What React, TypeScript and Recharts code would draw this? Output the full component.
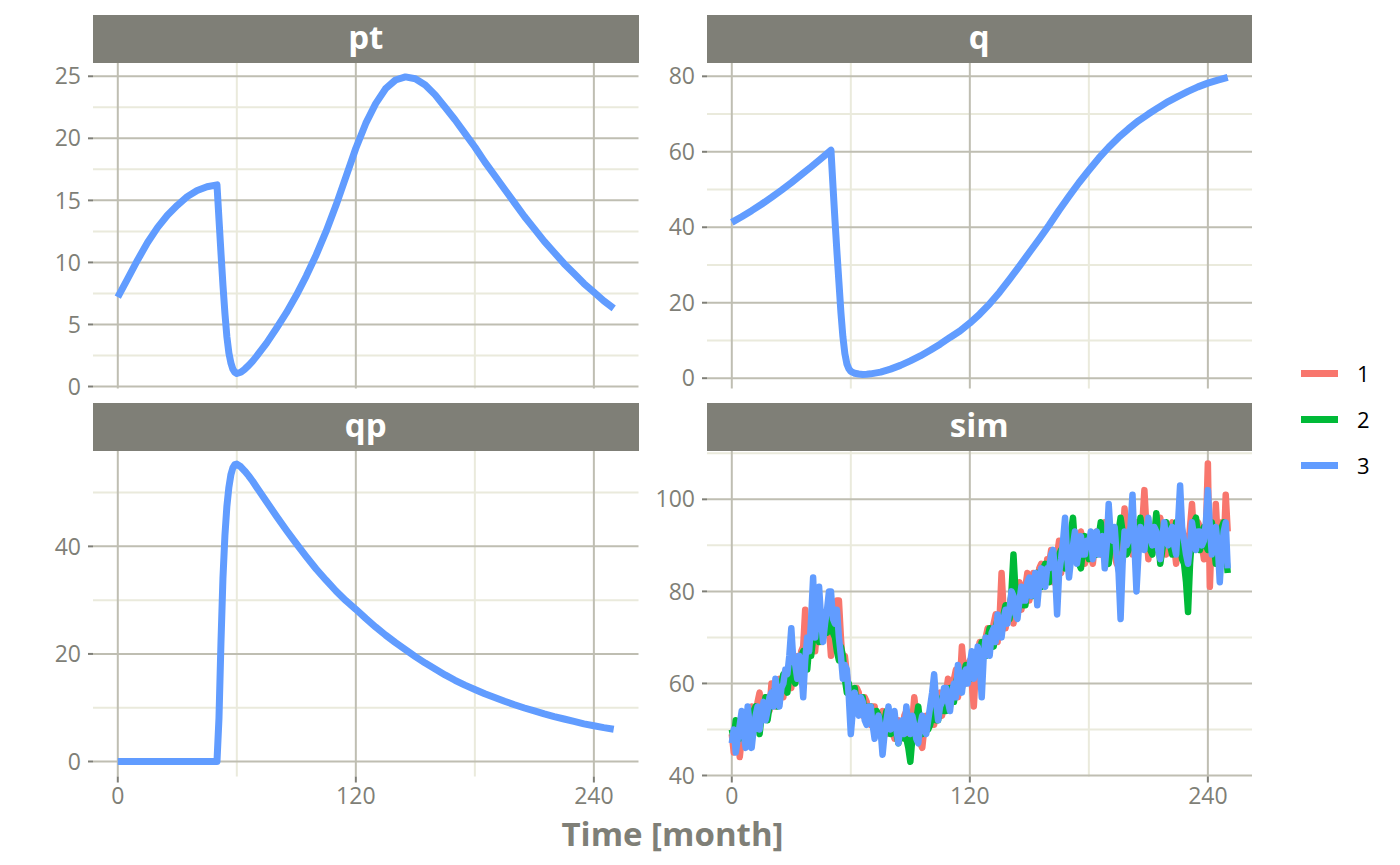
import { LineChart, Line, XAxis, YAxis, ReferenceLine } from 'recharts';

// months sampled for the smooth model curves
const MONTHS = [0, 5, 10, 15, 20, 25, 30, 35, 40, 45, 50, 51, 52, 53, 54, 55, 56, 57, 58, 59, 60, 62, 64, 66, 68,
  70, 75, 80, 85, 90, 95, 100, 105, 110, 115, 120, 125, 130, 135, 140, 145, 150, 155, 160, 165, 170, 175, 180,
  185, 190, 195, 200, 205, 210, 215, 220, 225, 230, 235, 240, 245, 250];

const PT = [7.2, 8.7, 10.2, 11.6, 12.8, 13.8, 14.6, 15.3, 15.8, 16.1, 16.25, 13.5, 10.8, 8.2, 5.9, 4.0, 2.7, 1.9,
  1.4, 1.15, 1.05, 1.15, 1.4, 1.7, 2.05, 2.45, 3.5, 4.7, 5.95, 7.35, 8.9, 10.6, 12.5, 14.6, 16.9, 19.2, 21.2,
  22.8, 24.0, 24.7, 24.95, 24.8, 24.3, 23.5, 22.5, 21.5, 20.4, 19.3, 18.1, 17.0, 15.9, 14.8, 13.7, 12.7, 11.7,
  10.8, 9.9, 9.1, 8.3, 7.6, 6.9, 6.3];

const Q = [41.3, 42.8, 44.4, 46.1, 47.9, 49.8, 51.8, 53.9, 56.0, 58.2, 60.4, 51.0, 42.0, 33.5, 25.5, 17.5, 11.0,
  6.5, 3.8, 2.5, 1.8, 1.3, 1.1, 1.0, 1.05, 1.15, 1.6, 2.4, 3.4, 4.6, 5.9, 7.4, 9.0, 10.8, 12.5, 14.6, 17.0, 19.7,
  22.8, 26.2, 29.7, 33.3, 36.9, 40.6, 44.5, 48.2, 51.8, 55.1, 58.3, 61.2, 63.8, 66.1, 68.2, 70.0, 71.7, 73.3,
  74.7, 76.0, 77.2, 78.2, 79.0, 79.7];

const QP = [0, 0, 0, 0, 0, 0, 0, 0, 0, 0, 0, 8, 22, 34, 42, 47.5, 51, 53.3, 54.6, 55.2, 55.3, 54.8, 54.0, 53.1,
  52.1, 51.0, 48.3, 45.6, 43.0, 40.5, 38.1, 35.8, 33.7, 31.7, 29.9, 28.3, 26.6, 25.0, 23.5, 22.1, 20.8, 19.5,
  18.3, 17.2, 16.1, 15.1, 14.2, 13.4, 12.6, 11.9, 11.2, 10.55, 9.95, 9.4, 8.85, 8.35, 7.9, 7.45, 7.0, 6.65,
  6.3, 6.0];

// simulated trajectories, monthly
const SIM_MONTHS = [
  0, 1, 2, 3, 4, 5, 6, 7, 8, 9, 10, 11, 12, 13, 14, 15, 16, 17, 18, 19,
  20, 21, 22, 23, 24, 25, 26, 27, 28, 29, 30, 31, 32, 33, 34, 35, 36, 37, 38, 39,
  40, 41, 42, 43, 44, 45, 46, 47, 48, 49, 50, 51, 52, 53, 54, 55, 56, 57, 58, 59,
  60, 61, 62, 63, 64, 65, 66, 67, 68, 69, 70, 71, 72, 73, 74, 75, 76, 77, 78, 79,
  80, 81, 82, 83, 84, 85, 86, 87, 88, 89, 90, 91, 92, 93, 94, 95, 96, 97, 98, 99,
  100, 101, 102, 103, 104, 105, 106, 107, 108, 109, 110, 111, 112, 113, 114, 115, 116, 117, 118, 119,
  120, 121, 122, 123, 124, 125, 126, 127, 128, 129, 130, 131, 132, 133, 134, 135, 136, 137, 138, 139,
  140, 141, 142, 143, 144, 145, 146, 147, 148, 149, 150, 151, 152, 153, 154, 155, 156, 157, 158, 159,
  160, 161, 162, 163, 164, 165, 166, 167, 168, 169, 170, 171, 172, 173, 174, 175, 176, 177, 178, 179,
  180, 181, 182, 183, 184, 185, 186, 187, 188, 189, 190, 191, 192, 193, 194, 195, 196, 197, 198, 199,
  200, 201, 202, 203, 204, 205, 206, 207, 208, 209, 210, 211, 212, 213, 214, 215, 216, 217, 218, 219,
  220, 221, 222, 223, 224, 225, 226, 227, 228, 229, 230, 231, 232, 233, 234, 235, 236, 237, 238, 239,
  240, 241, 242, 243, 244, 245, 246, 247, 248, 249, 250];

const SIM1 = [
  49, 45, 47, 50, 44, 48, 52, 48, 50, 53, 55, 51, 51, 56, 58, 53, 53, 57, 57, 54,
  60, 57, 55, 59, 61, 58, 57, 62, 63, 60, 59, 64, 66, 62, 61, 67, 68, 76, 65, 69,
  71, 74, 67, 72, 74, 69, 70, 75, 76, 72, 66, 74, 72, 78, 78, 70, 64, 66, 62, 58,
  59, 56, 55, 59, 58, 54, 53, 57, 56, 52, 51, 55, 55, 51, 50, 53, 54, 50, 49, 52,
  53, 50, 48, 51, 52, 48, 49, 53, 54, 50, 48, 52, 57, 53, 51, 47, 46, 50, 53, 51,
  54, 56, 51, 54, 56, 58, 53, 56, 58, 61, 55, 58, 61, 63, 57, 60, 68, 63, 60, 64,
  65, 60, 55, 63, 67, 69, 64, 68, 70, 72, 67, 71, 73, 75, 69, 74, 84, 76, 72, 75,
  77, 79, 73, 77, 79, 82, 76, 80, 81, 84, 78, 81, 84, 79, 80, 85, 86, 83, 82, 87,
  86, 89, 82, 86, 88, 91, 84, 88, 90, 86, 85, 89, 91, 88, 87, 91, 93, 89, 86, 90,
  91, 88, 86, 90, 93, 89, 88, 92, 95, 91, 89, 93, 92, 88, 86, 90, 94, 91, 98, 92,
  93, 90, 88, 92, 95, 91, 90, 95, 102, 94, 87, 92, 94, 90, 89, 93, 96, 92, 91, 88,
  89, 93, 95, 90, 86, 91, 97, 93, 92, 89, 88, 94, 99, 92, 90, 95, 94, 90, 87, 93,
  107.8, 81, 93, 88, 99, 91, 86, 95, 89, 101, 93];

const SIM2 = [
  50, 48, 52, 50, 48, 51, 53, 49, 47, 50, 51, 54, 55, 52, 49, 53, 54, 57, 52, 55,
  55, 58, 59, 55, 56, 60, 62, 59, 58, 62, 64, 61, 60, 64, 62, 66, 67, 64, 63, 68,
  66, 70, 73, 71, 69, 74, 75, 72, 71, 76, 74, 71, 70, 67, 65, 68, 66, 61, 58, 60,
  56, 58, 59, 55, 54, 57, 57, 53, 52, 55, 55, 52, 51, 54, 53, 50, 50, 52, 54, 51,
  49, 51, 52, 49, 47, 50, 51, 48, 48, 46, 43, 48, 50, 52, 55, 51, 49, 52, 52, 50,
  51, 53, 55, 52, 52, 55, 57, 54, 54, 57, 59, 56, 56, 60, 62, 59, 59, 62, 64, 61,
  61, 64, 66, 63, 63, 67, 69, 66, 66, 70, 72, 69, 68, 72, 74, 71, 71, 75, 77, 74,
  74, 80, 88, 80, 75, 78, 80, 77, 77, 81, 82, 79, 79, 83, 84, 81, 81, 85, 86, 83,
  82, 85, 87, 84, 84, 88, 89, 86, 85, 89, 91, 93, 96, 90, 88, 86, 85, 89, 92, 89,
  87, 90, 92, 89, 88, 92, 95, 91, 90, 87, 86, 90, 93, 90, 89, 93, 96, 93, 91, 88,
  89, 92, 94, 90, 87, 91, 96, 92, 90, 94, 93, 89, 88, 92, 97, 92, 86, 89, 92, 95,
  93, 90, 88, 92, 95, 91, 90, 87, 86, 82, 75.5, 86, 92, 95, 96, 92, 89, 92, 94, 90,
  89, 92, 95, 90, 86, 89, 91, 94, 95, 89, 84];

const SIM3 = [
  47, 50, 45, 48, 51, 54, 49, 46, 55, 51, 46, 50, 53, 55, 50, 53, 56, 52, 54, 57,
  58, 55, 61, 58, 55, 59, 60, 63, 62, 66, 72, 65, 64, 61, 66, 63, 57, 65, 70, 67,
  74, 83, 70, 75, 81, 74, 69, 73, 76, 80, 80, 74, 73, 76, 70, 66, 61, 64, 63, 57,
  49, 54, 58, 55, 53, 57, 56, 52, 51, 55, 55, 51, 48, 52, 53, 50, 44.5, 49, 52, 55,
  50, 53, 54, 50, 47, 51, 52, 49, 55, 51, 49, 53, 51, 48, 47, 51, 53, 50, 49, 52,
  55, 58, 62, 56, 52, 55, 56, 59, 59, 56, 54, 58, 60, 57, 64, 61, 58, 62, 63, 60,
  64, 67, 61, 65, 68, 64, 57, 66, 70, 68, 66, 71, 72, 69, 75, 72, 70, 74, 76, 73,
  76, 80, 79, 75, 74, 78, 81, 78, 78, 82, 83, 79, 80, 84, 77, 82, 85, 82, 81, 85,
  85, 88, 89, 84, 75, 84, 87, 91, 96, 88, 83, 87, 90, 93, 86, 89, 92, 88, 88, 91,
  90, 93, 87, 90, 93, 88, 89, 92, 85, 90, 99, 92, 91, 94, 88, 84, 74, 86, 93, 90,
  91, 94, 101, 90, 80, 88, 94, 91, 89, 93, 96, 92, 90, 94, 93, 89, 87, 92, 95, 91,
  90, 93, 94, 90, 88, 95, 103, 94, 91, 88, 86, 90, 95, 92, 89, 93, 93, 90, 91, 95,
  102, 94, 88, 91, 94, 90, 82, 89, 93, 95, 85];

const X_TICKS = [0, 120, 240];
const X_MINOR = [60, 180];
const RUN_LABELS = ['1', '2', '3'];
const RUN_COLORS = ['#F8766D', '#00BA38', '#619CFF'];

const curveData = MONTHS.map((m, i) => ({ m, pt: PT[i], q: Q[i], qp: QP[i] }));
const simData = SIM_MONTHS.map((m, i) => ({ m, s1: SIM1[i], s2: SIM2[i], s3: SIM3[i] }));

const STRIP = '#7F7F77';
const TEXT = '#7F7F77';
const MAJOR = '#BFBEB2';
const MINOR = '#EAEADC';
const FONT = "'Open Sans', 'Noto Sans', sans-serif";

const PANEL_W = 545.5;
const PANEL_H = 325.5;
const YW = 70;
const XH = 50;
const PAD = 16;
const COLS = [93, 706.5];
const ROWS = [63, 450.7];
const STRIP_TOPS = [15, 403];

const panels = [
  { title: 'pt', col: 0, row: 0, data: curveData, keys: ['pt'], colors: [RUN_COLORS[2]], width: 7,
    domain: [-0.16, 26.07], ticks: [0, 5, 10, 15, 20, 25], minor: [2.5, 7.5, 12.5, 17.5, 22.5] },
  { title: 'q', col: 1, row: 0, data: curveData, keys: ['q'], colors: [RUN_COLORS[2]], width: 7,
    domain: [-2.73, 83.53], ticks: [0, 20, 40, 60, 80], minor: [10, 30, 50, 70] },
  { title: 'qp', col: 0, row: 1, data: curveData, keys: ['qp'], colors: [RUN_COLORS[2]], width: 7,
    domain: [-2.79, 57.73], ticks: [0, 20, 40], minor: [10, 30, 50] },
  { title: 'sim', col: 1, row: 1, data: simData, keys: ['s1', 's2', 's3'], colors: RUN_COLORS, width: 6.5,
    domain: [39.78, 110.5], ticks: [40, 60, 80, 100], minor: [50, 70, 90, 110] },
];

function Panel({ p }: { p: (typeof panels)[number] }) {
  const showX = p.row === 1;
  const left = COLS[p.col];
  const tickStyle = { fill: TEXT, fontSize: 23, fontFamily: FONT };
  return (
    <>
      <div
        style={{
          position: 'absolute', left, top: STRIP_TOPS[p.row], width: PANEL_W, height: 48,
          background: STRIP, color: '#fff', fontFamily: FONT, fontWeight: 700, fontSize: 33,
          lineHeight: '44px', textAlign: 'center',
        }}
      >
        {p.title}
      </div>
      <div style={{ position: 'absolute', left: left - YW, top: ROWS[p.row] - PAD }}>
        <LineChart
          width={YW + PANEL_W}
          height={PANEL_H + PAD + (showX ? XH : PAD)}
          data={p.data}
          margin={{ top: PAD, right: 0, bottom: showX ? 0 : PAD, left: 0 }}
        >
          <XAxis
            dataKey="m"
            type="number"
            domain={[-12.5, 262.5]}
            ticks={X_TICKS}
            interval={0}
            allowDataOverflow
            hide={!showX}
            height={XH}
            axisLine={false}
            tickSize={6}
            tickMargin={5}
            tickLine={{ stroke: TEXT, strokeWidth: 2 }}
            tick={tickStyle}
          />
          <YAxis
            type="number"
            domain={p.domain}
            ticks={p.ticks}
            interval={0}
            allowDataOverflow
            width={YW}
            axisLine={false}
            tickSize={5}
            tickMargin={7}
            tickLine={{ stroke: TEXT, strokeWidth: 2 }}
            tick={tickStyle}
          />
          {p.minor.map((v) => (
            <ReferenceLine key={'ym' + v} y={v} stroke={MINOR} strokeWidth={2} zIndex={-60} />
          ))}
          {X_MINOR.map((v) => (
            <ReferenceLine key={'xm' + v} x={v} stroke={MINOR} strokeWidth={2} zIndex={-60} />
          ))}
          {p.ticks.map((v) => (
            <ReferenceLine key={'yM' + v} y={v} stroke={MAJOR} strokeWidth={2} zIndex={-50} />
          ))}
          {X_TICKS.map((v) => (
            <ReferenceLine key={'xM' + v} x={v} stroke={MAJOR} strokeWidth={2} zIndex={-50} />
          ))}
          {p.keys.map((k, i) => (
            <Line
              key={k}
              type="linear"
              dataKey={k}
              stroke={p.colors[i]}
              strokeWidth={p.width}
              strokeLinejoin="round"
              dot={false}
              activeDot={false}
              isAnimationActive={false}
            />
          ))}
        </LineChart>
      </div>
    </>
  );
}

export default function App() {
  return (
    <div style={{ position: 'relative', width: 1400, height: 865, background: '#fff', fontFamily: FONT }}>
      <style>{'body{margin:0}'}</style>
      {panels.map((p) => (
        <Panel key={p.title} p={p} />
      ))}
      <div
        style={{
          position: 'absolute', left: COLS[0], width: COLS[1] + PANEL_W - COLS[0], top: 817,
          textAlign: 'center', color: TEXT, fontWeight: 700, fontSize: 33, lineHeight: '33px',
        }}
      >
        Time [month]
      </div>
      {RUN_LABELS.map((lab, i) => (
        <div key={lab} style={{ position: 'absolute', left: 1301, top: 373.3 + i * 46 - 20, height: 40 }}>
          <div style={{ position: 'absolute', left: 0, top: 16.5, width: 37, height: 7, background: RUN_COLORS[i] }} />
          <div style={{ position: 'absolute', left: 56, top: 0, lineHeight: '40px', fontSize: 22, color: '#000' }}>
            {lab}
          </div>
        </div>
      ))}
    </div>
  );
}
